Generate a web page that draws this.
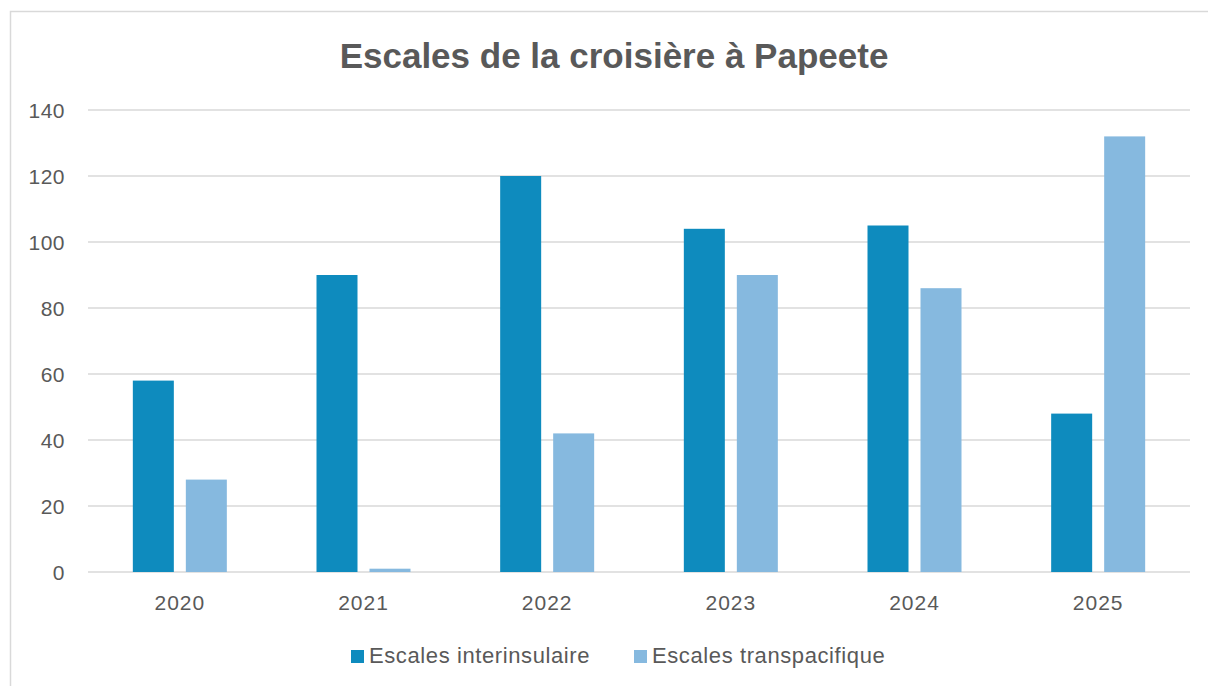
<!DOCTYPE html>
<html>
<head>
<meta charset="utf-8">
<script src="https://cdn.jsdelivr.net/npm/d3@7"></script>
<style>
  body { margin: 0; background: #fff; }
  text { font-family: "Liberation Sans", Arial, sans-serif; fill: #595959; }
</style>
</head>
<body>
<div id="chart"></div>
<script>
let years = ['2020', '2021', '2022', '2023', '2024', '2025']
let interinsulaire = [58, 90, 120, 104, 105, 48]
let transpacifique = [28, 1, 42, 90, 86, 132]
let seriesNames = ['Escales interinsulaire', 'Escales transpacifique']
let yTicks = [0, 20, 40, 60, 80, 100, 120, 140]

let width = 1208
let height = 686
let margin = { top: 110, left: 88, right: 18, bottom: 114 }

let svg = d3
  .select('#chart')
  .append('svg')
  .attr('width', width)
  .attr('height', height)

// outer frame
svg
  .append('rect')
  .attr('x', 10.5)
  .attr('y', 11.5)
  .attr('width', 1210)
  .attr('height', 700)
  .attr('fill', '#fff')
  .attr('stroke', '#d9d9d9')
  .attr('stroke-width', 1.5)

svg
  .append('text')
  .attr('x', 614)
  .attr('y', 68)
  .attr('text-anchor', 'middle')
  .attr('font-size', 35)
  .attr('font-weight', 'bold')
  .text('Escales de la croisière à Papeete')

let x = d3
  .scaleBand()
  .domain(years)
  .range([margin.left, width - margin.right])

let y = d3
  .scaleLinear()
  .domain([0, 140])
  .range([height - margin.bottom, margin.top])

let g = svg.append('g')

// gridlines
g.selectAll('.grid')
  .data(yTicks)
  .enter()
  .append('line')
  .attr('class', 'grid')
  .attr('x1', margin.left)
  .attr('x2', width - margin.right)
  .attr('y1', d => y(d))
  .attr('y2', d => y(d))
  .attr('stroke', '#d9d9d9')
  .attr('stroke-width', 1.5)

g.selectAll('.ylabel')
  .data(yTicks)
  .enter()
  .append('text')
  .attr('class', 'ylabel')
  .attr('x', 65)
  .attr('y', d => y(d))
  .attr('dy', '0.36em')
  .attr('text-anchor', 'end')
  .attr('font-size', 21)
  .attr('letter-spacing', 0.5)
  .text(d => d)

g.selectAll('.xlabel')
  .data(years)
  .enter()
  .append('text')
  .attr('class', 'xlabel')
  .attr('x', d => x(d) + x.bandwidth() / 2)
  .attr('y', 610)
  .attr('text-anchor', 'middle')
  .attr('font-size', 21)
  .attr('letter-spacing', 1)
  .text(d => d)

let barW = 41
let gap = 12
let colors = ['#0e8bbe', '#86b9df']
let series = [interinsulaire, transpacifique]

series.forEach((vals, i) => {
  g.selectAll('.bar' + i)
    .data(vals)
    .enter()
    .append('rect')
    .attr('class', 'bar' + i)
    .attr('x', (d, j) => {
      let c = x(years[j]) + x.bandwidth() / 2
      return i === 0 ? c - gap / 2 - barW : c + gap / 2
    })
    .attr('y', d => y(d))
    .attr('width', barW)
    .attr('height', d => y(0) - y(d))
    .attr('fill', colors[i])
})

// legend
let legendX = [351, 634]
seriesNames.forEach((name, i) => {
  svg
    .append('rect')
    .attr('x', legendX[i])
    .attr('y', 650)
    .attr('width', 13)
    .attr('height', 13)
    .attr('fill', colors[i])
  svg
    .append('text')
    .attr('x', legendX[i] + 18)
    .attr('y', 663)
    .attr('font-size', 22)
    .attr('letter-spacing', 0.6)
    .text(name)
})
</script>
</body>
</html>
